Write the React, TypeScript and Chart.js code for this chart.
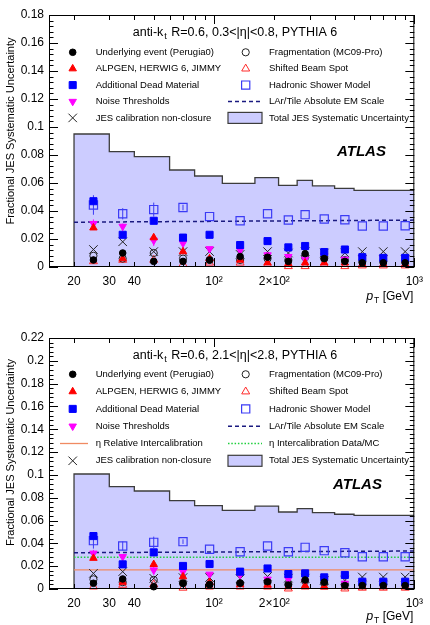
import React, { useEffect, useRef } from 'react';
import { Chart, registerables } from 'chart.js';

Chart.register(...registerables);

const FONT = '"Liberation Sans", Arial, Helvetica, sans-serif';

// ---------- shared axis data ----------
const ptCenters = [25, 35, 50, 70, 95, 135, 185, 235, 285, 355, 450, 550, 700, 900];
const binEdges = [20, 30, 40, 60, 80, 110, 160, 210, 260, 310, 400, 500, 1000];
const lineEdges = [20, 1000];
const xTickValues = [20, 30, 40, 100, 200, 1000];
const xTickLabels = ['20', '30', '40', '10²', '2×10²', '10³'];

// ---------- top panel: 0.3<|eta|<0.8 ----------
const topTotal = [0.095, 0.0824, 0.0788, 0.0693, 0.065, 0.0598, 0.0638, 0.0583, 0.0619, 0.0579, 0.0562, 0.0548];
const topUE = [0.005, 0.01, 0.004, 0.004, 0.005, 0.0075, 0.007, 0.004, 0.0095, 0.006, 0.004, 0.003, 0.003, 0.003];
const topAlpgen = [0.028, 0.006, 0.021, 0.011, 0.006, 0.005, 0.003, 0.0025, 0.003, 0.003, 0.003, 0.002, 0.002, 0.002];
const topDeadMat = [0.047, 0.023, 0.033, 0.021, 0.023, 0.0157, 0.0185, 0.014, 0.015, 0.0107, 0.0125, 0.007, 0.0065, 0.0065];
const topNoise = [0.031, 0.029, 0.019, 0.017, 0.013, 0.012, 0.0086, 0.0074, 0.0055, 0.008, 0.0055, 0.0064, 0.0064, 0.006];
const topNonClosure = [0.0125, 0.018, 0.011, 0.011, 0.011, 0.009, 0.011, 0.01, 0.011, 0.01, 0.01, 0.011, 0.011, 0.011];
const topFrag = [0.008, 0.006, 0.01, 0.006, 0.005, 0.005, 0.006, 0.005, 0.007, 0.006, 0.005, 0.004, 0.004, 0.004];
const topBeam = [0.004, 0.005, 0.005, 0.002, 0.003, 0.003, 0.002, 0.0005, 0.0005, 0.002, 0.0005, 0.001, 0.001, 0.001];
const topHadronic = [0.0443, 0.038, 0.041, 0.0425, 0.036, 0.033, 0.038, 0.0336, 0.0374, 0.0343, 0.0338, 0.0293, 0.0293, 0.0295];
const topHadronicErr = [0.007, 0.004, 0.005, 0.002, 0, 0, 0, 0, 0, 0, 0, 0, 0, 0];
const topNoiseErr = [0.003, 0.002, 0.004, 0.002, 0, 0, 0, 0, 0, 0, 0, 0, 0, 0];
const topEMScale = [0.032, 0.0335];

// ---------- bottom panel: 2.1<|eta|<2.8 ----------
const botTotal = [0.1008, 0.0897, 0.0859, 0.0774, 0.073, 0.069, 0.0727, 0.0675, 0.0704, 0.0669, 0.0655, 0.0646];
const botUE = [0.005, 0.0088, 0.002, 0.005, 0.004, 0.005, 0.0064, 0.0035, 0.0079, 0.006, 0.003, 0.003, 0.003, 0.003];
const botAlpgen = [0.027, 0.006, 0.0216, 0.0108, 0.0059, 0.004, 0.0035, 0.002, 0.003, 0.002, 0.002, 0.002, 0.002, 0.002];
const botDeadMat = [0.0464, 0.0216, 0.0321, 0.0202, 0.0219, 0.0152, 0.018, 0.0131, 0.0137, 0.0102, 0.0123, 0.0064, 0.0064, 0.0064];
const botNoise = [0.0313, 0.0283, 0.0166, 0.0152, 0.0129, 0.0126, 0.0085, 0.0085, 0.0064, 0.0085, 0.0049, 0.0064, 0.0064, 0.0064];
const botNonClosure = [0.0137, 0.0152, 0.0094, 0.01, 0.01, 0.009, 0.011, 0.0095, 0.0095, 0.0075, 0.0075, 0.0105, 0.0105, 0.0105];
const botFrag = [0.0085, 0.006, 0.008, 0.005, 0.004, 0.005, 0.006, 0.004, 0.007, 0.005, 0.004, 0.004, 0.004, 0.004];
const botBeam = [0.002, 0.0035, 0.004, 0.001, 0.002, 0.002, 0.002, 0.0003, 0.002, 0.002, 0.0003, 0.001, 0.001, 0.001];
const botHadronic = [0.0424, 0.0377, 0.0409, 0.0415, 0.0348, 0.0327, 0.0377, 0.0327, 0.0365, 0.0336, 0.0318, 0.0283, 0.0283, 0.0283];
const botHadronicErr = [0.007, 0.004, 0.005, 0.002, 0, 0, 0, 0, 0, 0, 0, 0, 0, 0];
const botNoiseErr = [0.003, 0.002, 0.004, 0.002, 0, 0, 0, 0, 0, 0, 0, 0, 0, 0];
const botEMScale = [0.0318, 0.0333];
const botEtaInterData = [0.0278, 0.0278];
const botEtaRelative = [0.0167, 0.0167];

// ---------- styles ----------
type MarkerDef = { style: string; r: number; fill: string; stroke: string; lw: number; rot?: number };
const MK: Record<string, MarkerDef> = {
  ue: { style: 'circle', r: 3.3, fill: '#000000', stroke: '#000000', lw: 1 },
  alpgen: { style: 'triangle', r: 4.3, fill: '#ff0000', stroke: '#ff0000', lw: 1 },
  dead: { style: 'rect', r: 5, fill: '#0000ff', stroke: '#0000ff', lw: 1 },
  noise: { style: 'triangle', r: 4.3, fill: '#ff00ff', stroke: '#ff00ff', lw: 1, rot: 180 },
  nonclos: { style: 'crossRot', r: 6, fill: 'rgba(0,0,0,0)', stroke: '#222222', lw: 1 },
  frag: { style: 'circle', r: 3.6, fill: 'rgba(0,0,0,0)', stroke: '#222222', lw: 1 },
  beam: { style: 'triangle', r: 4.6, fill: 'rgba(0,0,0,0)', stroke: '#ff2a2a', lw: 1 },
  had: { style: 'rect', r: 5.8, fill: 'rgba(0,0,0,0)', stroke: '#3b3bf5', lw: 1.2 },
};
const LINES: Record<string, { color: string; width: number; dash: number[] }> = {
  em: { color: '#1a1a80', width: 1.5, dash: [4, 3] },
  etaData: { color: '#1ecf3c', width: 1.5, dash: [1.5, 1.8] },
  etaRel: { color: '#f08a62', width: 1.3, dash: [] },
};
const HIST_FILL = '#ccccff';
const HIST_LINE = '#3c3c3c';

function pts(xs: number[], ys: number[]) {
  return xs.map((x, i) => ({ x, y: ys[i] }));
}
function hist(edges: number[], vals: number[]) {
  const d = [{ x: edges[0], y: 0 }];
  vals.forEach((v, i) => d.push({ x: edges[i], y: v }));
  d.push({ x: edges[edges.length - 1], y: vals[vals.length - 1] });
  return d;
}
function markerSet(ys: number[], key: string, order: number, errs?: number[]) {
  const m = MK[key];
  return {
    data: pts(ptCenters, ys),
    showLine: false,
    pointStyle: m.style,
    pointRadius: m.r,
    pointBackgroundColor: m.fill,
    pointBorderColor: m.stroke,
    pointBorderWidth: m.lw,
    pointRotation: m.rot || 0,
    order,
    clip: 8,
    errs,
    errColor: m.stroke,
  };
}
function lineSet(ys: number[], key: string, order: number) {
  const l = LINES[key];
  return {
    data: pts(lineEdges, ys),
    showLine: true,
    pointRadius: 0,
    borderColor: l.color,
    borderWidth: l.width,
    borderDash: l.dash,
    fill: false,
    order,
  };
}
function histSet(vals: number[]) {
  return {
    data: hist(binEdges, vals),
    showLine: true,
    stepped: true,
    fill: 'origin',
    backgroundColor: HIST_FILL,
    borderColor: HIST_LINE,
    borderWidth: 1.3,
    pointRadius: 0,
    order: 100,
    isHist: true,
  };
}

function drawMk(ctx: CanvasRenderingContext2D, m: MarkerDef, x: number, y: number) {
  ctx.save();
  ctx.fillStyle = m.fill;
  ctx.strokeStyle = m.stroke;
  ctx.lineWidth = m.lw;
  ctx.beginPath();
  const r = m.r;
  if (m.style === 'circle') {
    ctx.arc(x, y, r, 0, Math.PI * 2);
  } else if (m.style === 'rect') {
    const s = r * Math.SQRT1_2;
    ctx.rect(x - s, y - s, 2 * s, 2 * s);
  } else if (m.style === 'triangle') {
    let a = ((m.rot || 0) * Math.PI) / 180;
    for (let k = 0; k < 3; k++) {
      const px = x + Math.sin(a) * r;
      const py = y - Math.cos(a) * r;
      if (k === 0) ctx.moveTo(px, py);
      else ctx.lineTo(px, py);
      a += (2 * Math.PI) / 3;
    }
    ctx.closePath();
  } else if (m.style === 'crossRot') {
    const o = r * Math.SQRT1_2;
    ctx.moveTo(x - o, y - o);
    ctx.lineTo(x + o, y + o);
    ctx.moveTo(x - o, y + o);
    ctx.lineTo(x + o, y - o);
  }
  if (m.style !== 'crossRot') ctx.fill();
  ctx.stroke();
  ctx.restore();
}

type LegendItem = { kind: 'marker' | 'line' | 'box'; key: string; label: string };

type PanelDef = {
  top: number;
  height: number;
  padTop: number;
  xAxisH: number;
  ymax: number;
  titleRest: string;
  titleDy: number;
  legendDy: number;
  rowH: number;
  left: LegendItem[];
  right: LegendItem[];
  atlasX: number;
  atlasDy: number;
  yTitleShift: number;
  xTitleDy: number;
  datasets: any[];
};

const LEFT_COMMON: LegendItem[] = [
  { kind: 'marker', key: 'ue', label: 'Underlying event (Perugia0)' },
  { kind: 'marker', key: 'alpgen', label: 'ALPGEN, HERWIG 6, JIMMY' },
  { kind: 'marker', key: 'dead', label: 'Additional Dead Material' },
  { kind: 'marker', key: 'noise', label: 'Noise Thresholds' },
];
const RIGHT_COMMON: LegendItem[] = [
  { kind: 'marker', key: 'frag', label: 'Fragmentation (MC09-Pro)' },
  { kind: 'marker', key: 'beam', label: 'Shifted Beam Spot' },
  { kind: 'marker', key: 'had', label: 'Hadronic Shower Model' },
  { kind: 'line', key: 'em', label: 'LAr/Tile Absolute EM Scale' },
];

const topPanel: PanelDef = {
  top: 0,
  height: 310,
  padTop: 15,
  xAxisH: 43,
  ymax: 0.18,
  titleRest: ' R=0.6, 0.3<|η|<0.8, PYTHIA 6',
  titleDy: 17.5,
  legendDy: 37.3,
  rowH: 16.4,
  left: [...LEFT_COMMON, { kind: 'marker', key: 'nonclos', label: 'JES calibration non-closure' }],
  right: [...RIGHT_COMMON, { kind: 'box', key: 'total', label: 'Total JES Systematic Uncertainty' }],
  atlasX: 337,
  atlasDy: 136.7,
  yTitleShift: -10,
  xTitleDy: 30,
  datasets: [
    markerSet(topUE, 'ue', 1),
    markerSet(topAlpgen, 'alpgen', 2),
    markerSet(topDeadMat, 'dead', 3),
    markerSet(topNoise, 'noise', 4, topNoiseErr),
    markerSet(topNonClosure, 'nonclos', 5),
    markerSet(topFrag, 'frag', 6),
    markerSet(topBeam, 'beam', 7),
    markerSet(topHadronic, 'had', 8, topHadronicErr),
    lineSet(topEMScale, 'em', 9),
    histSet(topTotal),
  ],
};

const botPanel: PanelDef = {
  top: 310,
  height: 315,
  padTop: 28,
  xAxisH: 36,
  ymax: 0.22,
  titleRest: ' R=0.6, 2.1<|η|<2.8, PYTHIA 6',
  titleDy: 17.7,
  legendDy: 36.3,
  rowH: 17.3,
  left: [
    ...LEFT_COMMON,
    { kind: 'line', key: 'etaRel', label: 'η Relative Intercalibration' },
    { kind: 'marker', key: 'nonclos', label: 'JES calibration non-closure' },
  ],
  right: [
    ...RIGHT_COMMON,
    { kind: 'line', key: 'etaData', label: 'η Intercalibration Data/MC' },
    { kind: 'box', key: 'total', label: 'Total JES Systematic Uncertainty' },
  ],
  atlasX: 333,
  atlasDy: 147,
  yTitleShift: -11,
  xTitleDy: 28,
  datasets: [
    markerSet(botUE, 'ue', 1),
    markerSet(botAlpgen, 'alpgen', 2),
    markerSet(botDeadMat, 'dead', 3),
    markerSet(botNoise, 'noise', 4, botNoiseErr),
    markerSet(botNonClosure, 'nonclos', 5),
    markerSet(botFrag, 'frag', 6),
    markerSet(botBeam, 'beam', 7),
    markerSet(botHadronic, 'had', 8, botHadronicErr),
    lineSet(botEMScale, 'em', 9),
    lineSet(botEtaInterData, 'etaData', 10),
    lineSet(botEtaRelative, 'etaRel', 11),
    histSet(botTotal),
  ],
};

function makeDecor(p: PanelDef) {
  return {
    id: 'decor',
    afterDatasetDraw(chart: any, args: any) {
      const ds = chart.data.datasets[args.index];
      if (!ds.isHist) return;
      // error bars drawn right after the histogram so markers sit on top
      const { ctx } = chart;
      const ys = chart.scales.y;
      chart.data.datasets.forEach((d: any, i: number) => {
        if (!d.errs) return;
        const meta = chart.getDatasetMeta(i);
        ctx.save();
        ctx.strokeStyle = d.errColor;
        ctx.lineWidth = 1;
        d.errs.forEach((e: number, j: number) => {
          if (!e) return;
          const pt = meta.data[j];
          const v = d.data[j].y;
          ctx.beginPath();
          ctx.moveTo(pt.x, ys.getPixelForValue(v + e));
          ctx.lineTo(pt.x, ys.getPixelForValue(Math.max(0, v - e)));
          ctx.stroke();
        });
        ctx.restore();
      });
    },
    afterDraw(chart: any) {
      const { ctx, chartArea: ca, scales } = chart;
      const xs = scales.x;
      const ys = scales.y;
      ctx.save();
      // frame
      ctx.strokeStyle = '#000';
      ctx.lineWidth = 1;
      ctx.strokeRect(ca.left + 0.5, ca.top + 0.5, ca.right - ca.left - 1, ca.bottom - ca.top - 1);
      // y ticks
      ctx.beginPath();
      const nMinor = Math.round(p.ymax / 0.004);
      for (let k = 0; k <= nMinor; k++) {
        const v = k * 0.004;
        const major = k % 5 === 0;
        const len = major ? 9 : 4.5;
        const y = Math.round(ys.getPixelForValue(v)) + 0.5;
        ctx.moveTo(ca.left, y);
        ctx.lineTo(ca.left + len, y);
        ctx.moveTo(ca.right, y);
        ctx.lineTo(ca.right - len, y);
      }
      // x ticks
      const xt: number[] = [];
      for (let v = 20; v < 100; v += 10) xt.push(v);
      for (let v = 100; v <= 1000; v += 100) xt.push(v);
      xt.forEach((v) => {
        const major = v === 100 || v === 1000;
        const len = major ? 9 : 5;
        const x = Math.round(xs.getPixelForValue(v)) + 0.5;
        ctx.moveTo(x, ca.bottom);
        ctx.lineTo(x, ca.bottom - len);
        ctx.moveTo(x, ca.top);
        ctx.lineTo(x, ca.top + len);
      });
      ctx.stroke();

      // header title
      ctx.fillStyle = '#000';
      ctx.textBaseline = 'middle';
      ctx.textAlign = 'left';
      const ty = ca.top + p.titleDy;
      ctx.font = `12.5px ${FONT}`;
      const w1 = ctx.measureText('anti-k').width;
      const w3 = ctx.measureText(p.titleRest).width;
      ctx.font = `9px ${FONT}`;
      const w2 = ctx.measureText('t').width;
      const total = w1 + w2 + w3 + 2;
      let tx = ca.left + 186 - total / 2;
      ctx.font = `12.5px ${FONT}`;
      ctx.fillText('anti-k', tx, ty);
      tx += w1 + 1;
      ctx.font = `9px ${FONT}`;
      ctx.fillText('t', tx, ty + 4);
      tx += w2 + 1;
      ctx.font = `12.5px ${FONT}`;
      ctx.fillText(p.titleRest, tx, ty);

      // legend
      ctx.font = `9.5px ${FONT}`;
      const drawItem = (it: LegendItem, mx: number, lx0: number, lx1: number, tx0: number, y: number) => {
        if (it.kind === 'marker') {
          drawMk(ctx, MK[it.key], mx, y);
        } else if (it.kind === 'line') {
          const l = LINES[it.key];
          ctx.save();
          ctx.strokeStyle = l.color;
          ctx.lineWidth = l.width;
          ctx.setLineDash(l.dash);
          ctx.beginPath();
          ctx.moveTo(lx0, y);
          ctx.lineTo(lx1, y);
          ctx.stroke();
          ctx.restore();
        } else {
          ctx.save();
          ctx.fillStyle = HIST_FILL;
          ctx.strokeStyle = HIST_LINE;
          ctx.lineWidth = 1.2;
          ctx.fillRect(lx0, y - 5.5, lx1 - lx0, 11);
          ctx.strokeRect(lx0, y - 5.5, lx1 - lx0, 11);
          ctx.restore();
        }
        ctx.fillStyle = '#000';
        ctx.fillText(it.label, tx0, y);
      };
      p.left.forEach((it, i) => {
        const y = ca.top + p.legendDy + i * p.rowH;
        drawItem(it, ca.left + 23.7, ca.left + 11, ca.left + 39, ca.left + 46.7, y);
      });
      p.right.forEach((it, i) => {
        const y = ca.top + p.legendDy + i * p.rowH;
        drawItem(it, ca.left + 196.7, ca.left + 179, ca.left + 213, ca.left + 220, y);
      });

      // ATLAS label
      ctx.font = `italic bold 15px ${FONT}`;
      ctx.fillStyle = '#000';
      ctx.fillText('ATLAS', p.atlasX, ca.top + p.atlasDy);

      // y-axis title
      ctx.save();
      ctx.translate(10.5, (ca.top + ca.bottom) / 2 + p.yTitleShift);
      ctx.rotate(-Math.PI / 2);
      ctx.textAlign = 'center';
      ctx.font = `11px ${FONT}`;
      ctx.fillText('Fractional JES Systematic Uncertainty', 0, 0);
      ctx.restore();

      // x-axis title: p_T [GeV]
      const xy = ca.bottom + p.xTitleDy;
      ctx.font = `12px ${FONT}`;
      const wg = ctx.measureText(' [GeV]').width;
      ctx.font = `8.5px ${FONT}`;
      const wt = ctx.measureText('T').width;
      ctx.font = `italic 12.5px ${FONT}`;
      const wp = ctx.measureText('p').width;
      let xx = ca.right - 1 - wg - wt - wp - 1;
      ctx.fillText('p', xx, xy);
      xx += wp + 1;
      ctx.font = `8.5px ${FONT}`;
      ctx.fillText('T', xx, xy + 4);
      xx += wt;
      ctx.font = `12px ${FONT}`;
      ctx.fillText(' [GeV]', xx, xy);
      ctx.restore();
    },
  };
}

function makeConfig(p: PanelDef): any {
  return {
    type: 'line',
    data: { datasets: p.datasets },
    plugins: [makeDecor(p)],
    options: {
      animation: false,
      responsive: false,
      events: [],
      layout: { padding: { top: p.padTop, right: 9, left: 0, bottom: 0 } },
      plugins: { legend: { display: false }, tooltip: { enabled: false } },
      scales: {
        x: {
          type: 'logarithmic',
          min: 15,
          max: 1000,
          grid: { display: false, drawTicks: false },
          border: { display: false },
          afterBuildTicks: (s: any) => {
            s.ticks = xTickValues.map((v) => ({ value: v }));
          },
          afterFit: (s: any) => {
            s.height = p.xAxisH;
          },
          ticks: {
            autoSkip: false,
            maxRotation: 0,
            padding: 7,
            color: '#000',
            font: { family: FONT, size: 12 },
            callback: (v: number) => {
              const i = xTickValues.indexOf(Number(v));
              return i >= 0 ? xTickLabels[i] : '';
            },
          },
        },
        y: {
          type: 'linear',
          min: 0,
          max: p.ymax,
          grid: { display: false, drawTicks: false },
          border: { display: false },
          afterFit: (s: any) => {
            s.width = 49;
          },
          ticks: {
            stepSize: 0.02,
            padding: 5,
            color: '#000',
            font: { family: FONT, size: 12 },
            callback: (v: number) => String(Number(Number(v).toFixed(2))),
          },
        },
      },
    },
  };
}

function Panel({ def }: { def: PanelDef }) {
  const ref = useRef<HTMLCanvasElement | null>(null);
  useEffect(() => {
    if (!ref.current) return;
    const chart = new Chart(ref.current, makeConfig(def));
    return () => chart.destroy();
  }, [def]);
  return (
    <div style={{ position: 'absolute', left: 0, top: def.top, width: 430, height: def.height }}>
      <canvas ref={ref} width={430} height={def.height} style={{ display: 'block', width: 430, height: def.height }} />
    </div>
  );
}

export default function App() {
  return (
    <div>
      <Panel def={topPanel} />
      <Panel def={botPanel} />
    </div>
  );
}
